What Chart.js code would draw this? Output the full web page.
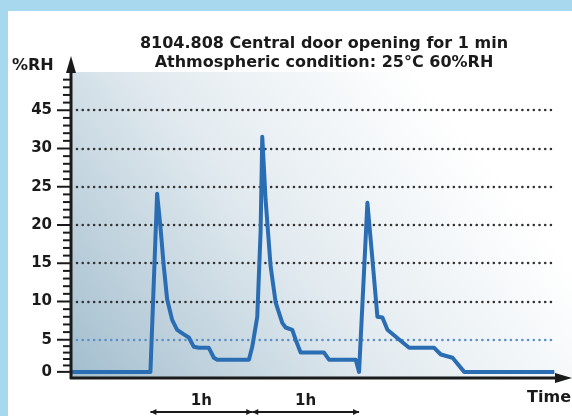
<!DOCTYPE html>
<html>
<head>
<meta charset="utf-8">
<script src="https://cdn.jsdelivr.net/npm/chart.js@4.4.1/dist/chart.umd.min.js"></script>
<style>
  html, body { margin: 0; padding: 0; background: #a8d8ee; }
  #wrap { width: 572px; height: 416px; }
</style>
</head>
<body>
<div id="wrap"><canvas id="rhChart" width="572" height="416"></canvas></div>
<script>
// temps en minutes, humidite en %RH
const timeMin = [0, 47, 51, 53, 55, 57, 60, 63, 67, 70, 73, 76, 82, 85, 87, 106, 108, 111, 113, 114, 116, 119, 122, 126, 128, 132, 134, 137, 151, 154, 170, 172, 177, 180, 183, 186, 189, 194, 202, 217, 221, 228, 235, 289];
const rhValues = [0, 0, 24.1, 19.7, 14.6, 10.3, 7.6, 6.3, 5.7, 5.3, 3.9, 3.75, 3.75, 2.2, 1.9, 1.9, 3.9, 8.0, 19.1, 34.6, 23.3, 14.6, 9.9, 7.2, 6.6, 6.3, 5.0, 3.0, 3.0, 1.9, 1.9, 0, 22.9, 15.5, 8.0, 7.9, 6.3, 5.4, 3.75, 3.75, 2.7, 2.2, 0, 0];
const yTickLabels = [0, 5, 10, 15, 20, 25, 30, 45];
const doorOpenings = [47, 108, 172];
const titleLines = ['8104.808 Central door opening for 1 min', 'Athmospheric condition: 25°C 60%RH'];

// l'axe Y n'est pas lineaire : chaque graduation a la meme hauteur (sauf 0-5, plus courte)
const FIRST_STEP = 0.84;
const tickPos = i => (i === 0 ? 0 : FIRST_STEP + (i - 1));
function toPos(v) {
    let i = 0;
    while (i < yTickLabels.length - 2 && v > yTickLabels[i + 1]) i++;
    const a = yTickLabels[i], b = yTickLabels[i + 1];
    return tickPos(i) + (v - a) / (b - a) * (tickPos(i + 1) - tickPos(i));
}

const points = timeMin.map((t, i) => ({ x: t, y: toPos(rhValues[i]) }));
const FONT = '"DejaVu Sans", Arial, sans-serif';
const INK = '#1a1a1a';

const decor = {
    id: 'decor',
    beforeDraw(chart) {
        const { ctx, chartArea: a, scales: { y } } = chart;
        ctx.save();
        ctx.fillStyle = '#a8d8ee';
        ctx.fillRect(0, 0, chart.width, chart.height);
        ctx.fillStyle = '#ffffff';
        ctx.fillRect(8, 11, chart.width - 8, chart.height - 11);

        // fond degrade de la zone de trace
        const g = ctx.createLinearGradient(a.left, a.bottom, a.left + 360, a.top + 20);
        g.addColorStop(0, '#a3bece');
        g.addColorStop(0.55, '#e3ebf0');
        g.addColorStop(1, '#ffffff');
        ctx.fillStyle = g;
        ctx.fillRect(a.left, a.top, chart.width - a.left, a.bottom - a.top);

        // lignes pointillees
        ctx.lineCap = 'round';
        ctx.lineWidth = 2.6;
        ctx.setLineDash([0.01, 5.7]);
        yTickLabels.forEach((lab, i) => {
            if (i === 0) return;
            const py = Math.round(y.getPixelForValue(tickPos(i)));
            ctx.strokeStyle = lab === 5 ? '#5b8fc6' : '#333333';
            ctx.beginPath();
            ctx.moveTo(a.left + 5, py);
            ctx.lineTo(a.right, py);
            ctx.stroke();
        });
        ctx.restore();
    },
    afterDraw(chart) {
        const { ctx, chartArea: a, scales: { x, y } } = chart;
        const ax = a.left - 1, ay = a.bottom;
        ctx.save();
        ctx.strokeStyle = INK;
        ctx.fillStyle = INK;

        // graduations
        ctx.lineWidth = 2;
        yTickLabels.forEach((lab, i) => {
            const py = y.getPixelForValue(tickPos(i));
            ctx.beginPath();
            ctx.moveTo(57, py);
            ctx.lineTo(ax, py);
            ctx.stroke();
            const next = i < yTickLabels.length - 1 ? tickPos(i + 1) : tickPos(i) + 1;
            for (let k = 1; k < 5; k++) {
                const my = y.getPixelForValue(tickPos(i) + (next - tickPos(i)) * k / 5);
                ctx.beginPath();
                ctx.moveTo(63, my);
                ctx.lineTo(ax, my);
                ctx.stroke();
            }
        });

        // axes avec fleches
        ctx.lineWidth = 3;
        ctx.beginPath();
        ctx.moveTo(ax, ay + 1);
        ctx.lineTo(ax, 70);
        ctx.moveTo(ax - 1, ay);
        ctx.lineTo(558, ay);
        ctx.stroke();
        ctx.beginPath();
        ctx.moveTo(ax, 56);
        ctx.lineTo(ax - 5, 73);
        ctx.lineTo(ax + 5, 73);
        ctx.closePath();
        ctx.fill();
        ctx.beginPath();
        ctx.moveTo(572, ay);
        ctx.lineTo(555, ay - 5);
        ctx.lineTo(555, ay + 5);
        ctx.closePath();
        ctx.fill();

        // textes
        ctx.font = 'bold 16px ' + FONT;
        ctx.textBaseline = 'middle';
        ctx.textAlign = 'center';
        ctx.fillText(titleLines[0], 324, 44);
        ctx.fillText(titleLines[1], 324, 63);
        ctx.textAlign = 'left';
        ctx.fillText('%RH', 12, 66);
        ctx.textAlign = 'right';
        ctx.fillText('Time', 571, 398);

        // intervalles de 1h entre les ouvertures
        const arrowY = 412;
        ctx.lineWidth = 2;
        ctx.textAlign = 'center';
        ctx.font = 'bold 15px ' + FONT;
        for (let i = 0; i < doorOpenings.length - 1; i++) {
            const x1 = x.getPixelForValue(doorOpenings[i]);
            const x2 = x.getPixelForValue(doorOpenings[i + 1]);
            ctx.beginPath();
            ctx.moveTo(x1, arrowY);
            ctx.lineTo(x2, arrowY);
            ctx.stroke();
            [[x1, 1], [x2, -1]].forEach(([px, d]) => {
                ctx.beginPath();
                ctx.moveTo(px, arrowY);
                ctx.lineTo(px + 6 * d, arrowY - 3);
                ctx.lineTo(px + 6 * d, arrowY + 3);
                ctx.closePath();
                ctx.fill();
            });
            ctx.fillText('1h', (x1 + x2) / 2, 401);
        }
        ctx.restore();
    }
};

const ctx = document.getElementById('rhChart').getContext('2d');
new Chart(ctx, {
    type: 'line',
    data: {
        datasets: [{
            data: points,
            borderColor: '#2b6db3',
            borderWidth: 4,
            borderJoinStyle: 'round',
            pointRadius: 0,
            tension: 0,
            fill: false
        }]
    },
    options: {
        responsive: false,
        animation: false,
        layout: { padding: { left: 12, top: 72, right: 16, bottom: 38 } },
        plugins: {
            legend: { display: false },
            tooltip: { enabled: false }
        },
        scales: {
            x: {
                type: 'linear',
                display: false,
                min: 0,
                max: 290
            },
            y: {
                type: 'linear',
                min: -0.16,
                max: 7.84,
                afterFit: s => { s.width = 60; },
                afterBuildTicks: s => { s.ticks = yTickLabels.map((v, i) => ({ value: tickPos(i) })); },
                grid: { display: false, drawTicks: false },
                border: { display: false },
                ticks: {
                    padding: 20,
                    color: INK,
                    font: { family: FONT, size: 15, weight: 'bold' },
                    callback: (val, i) => String(yTickLabels[i])
                }
            }
        }
    },
    plugins: [decor]
});
</script>
</body>
</html>
